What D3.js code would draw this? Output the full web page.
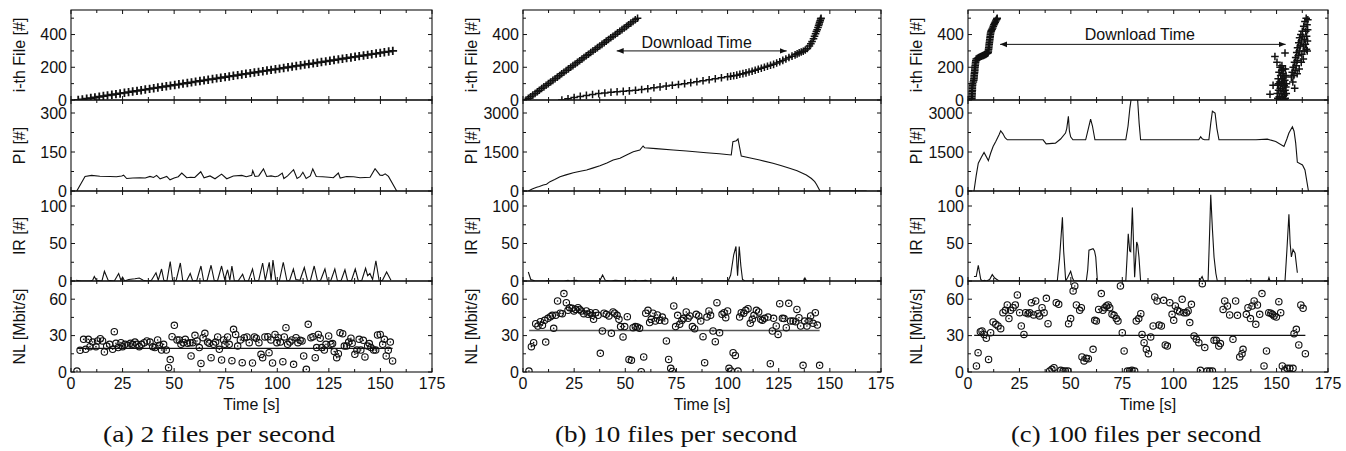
<!DOCTYPE html>
<html><head><meta charset="utf-8">
<script src="https://cdn.jsdelivr.net/npm/d3@7"></script>
<style>body{margin:0;background:#fff}svg{display:block}text{font-family:"Liberation Sans",Arial,sans-serif;fill:#111}</style>
</head><body><svg id="c" width="1346" height="451"></svg>
<script>
// ---------- tick labels / categories ----------
const timeTicks = [0,25,50,75,100,125,150,175];
const timeMinor = [12.5,37.5,62.5,87.5,112.5,137.5,162.5];
const fileTicks = [0,200,400], fileMinor = [100,300,500];
const piTicksA = [0,150,300], piMinorA = [75,225];
const piTicksBC = [0,1500,3000], piMinorBC = [750,2250];
const irTicks = [0,50,100], irMinor = [25,75];
const nlTicks = [0,30,60], nlMinor = [15,45];
const rowLabels = ["i-th File [#]","PI [#]","IR [#]","NL [Mbit/s]"];
const captions = ["(a) 2 files per second","(b) 10 files per second","(c) 100 files per second"];

// ---------- panel (a) 2 files/s ----------
const aFile = [[3.5,0],[5.5,4],[7.6,8],[9.6,12],[11.6,16],[13.7,20],[15.7,24],[17.7,28],[19.8,32],[21.8,36],[23.8,40],[25.9,44],[27.9,48],[29.9,52],[32.0,56],[34.0,60],[36.0,64],[38.1,68],[40.1,72],[42.1,76],[44.2,80],[46.2,84],[48.2,88],[50.3,92],[52.3,96],[54.3,100],[56.4,104],[58.4,108],[60.4,112],[62.5,116],[64.5,120],[66.5,124],[68.6,128],[70.6,132],[72.6,136],[74.7,140],[76.7,144],[78.7,148],[80.8,152],[82.8,156],[84.8,160],[86.9,164],[88.9,168],[90.9,172],[93.0,176],[95.0,180],[97.0,184],[99.1,188],[101.1,192],[103.1,196],[105.2,200],[107.2,204],[109.2,208],[111.3,212],[113.3,216],[115.3,220],[117.4,224],[119.4,228],[121.4,232],[123.5,236],[125.5,240],[127.5,244],[129.6,248],[131.6,252],[133.6,256],[135.7,260],[137.7,264],[139.7,268],[141.8,272],[143.8,276],[145.8,280],[147.9,284],[149.9,288],[151.9,292],[154.0,296],[156.0,300]];
const aPI = [[2.8,0],[6.8,56],[10,60],[14,57],[18.9,56],[22,55],[24.6,58],[25.5,61],[27,48],[30,50],[33.5,51],[36,50],[38.3,56],[40,52],[41.5,60],[43.2,47],[45,52],[46.4,56],[48,43],[50,50],[52,55],[53.7,69],[56.1,51],[58,53],[60,52],[62.9,74],[64.5,51],[67.4,58],[69.8,47],[73,65],[75.5,47],[78.7,58],[82.8,60],[85,55],[87.6,60],[88.1,78],[89.2,56],[91,58],[93.3,85],[94.9,56],[97,58],[99,55],[100.5,58],[102.4,69],[103.2,48],[105,58],[107.9,82],[109.6,48],[111,55],[112.4,72],[114,48],[116,58],[117.2,85],[118.9,56],[122,55],[125,53],[127.2,51],[129.6,69],[130.5,50],[133.6,56],[137,55],[140.1,51],[145,53],[147.4,86],[149.8,61],[151,60],[152.3,66],[153.9,56],[157.9,0]];
const aIR = [[2.5,1],[5,0],[9,0],[10.5,1],[11.3,6],[12.3,1],[15,0],[16.2,13],[18,1],[21,0],[23.1,10],[24.2,1],[25,5],[26,0],[28,2],[31,3],[33.1,4],[35,1],[37,0],[39,1],[41.2,11],[42.3,1],[43.9,16],[45,1],[46.5,0],[48.1,26],[49.3,0],[51,1],[53,24],[54.2,0],[56,0],[57.8,10],[59,0],[61,1],[63,20],[64.3,0],[66,1],[67.9,21],[69.4,1],[71,0],[73,20],[74.5,2],[75.9,15],[77,1],[78,20],[79.2,0],[81,0],[83.2,9],[84.3,0],[86,0],[88,16],[89.2,0],[91,1],[92.9,24],[94.2,1],[96.1,25],[97,1],[97.9,28],[99.3,0],[101,0],[102.9,25],[104.7,0],[106,1],[107.8,16],[109,2],[111,1],[113.1,18],[114.7,0],[116,0],[117.9,20],[119.5,0],[121,1],[123.1,16],[124.4,0],[126,1],[127.9,16],[129.2,0],[131,1],[132.8,15],[134.1,0],[136,1],[137.8,16],[139.3,0],[141,1],[142.8,17],[143.8,7],[144.9,10],[146.2,2],[147.8,27],[149.4,0],[151,1],[153,12],[155.1,1]];
const aNL = [[2.9,0.8],[4.4,17.9],[6.1,26.9],[7.1,18.7],[8.4,26.9],[9.2,20.9],[10.5,24.7],[12.1,20.9],[12.9,25.6],[14.2,27.5],[15.3,25.6],[16.2,16.5],[17.3,21.4],[18.7,22.8],[20.2,18.7],[21.0,33.2],[21.8,23.6],[22.9,20.1],[24.2,24.2],[25.0,20.9],[26.2,22.8],[27.5,22.0],[28.8,23.6],[29.9,22.8],[31.0,24.7],[32.0,22.8],[33.1,20.9],[34.2,22.8],[35.5,24.2],[36.8,25.6],[38.3,24.7],[39.6,20.9],[40.7,20.1],[42.0,26.4],[42.8,22.0],[43.9,18.1],[44.9,22.8],[46.2,18.1],[47.3,3.6],[48.1,10.2],[49.0,29.1],[50.1,38.5],[51.4,26.4],[52.5,26.4],[53.3,22.8],[54.4,24.2],[55.4,26.9],[56.5,23.6],[57.7,24.2],[58.2,13.2],[59.0,24.2],[60.1,30.2],[61.1,25.6],[62.2,20.1],[63.0,7.1],[64.0,28.3],[64.9,31.9],[66.2,24.7],[67.0,23.6],[67.9,11.8],[69.1,22.8],[70.1,24.7],[71.1,28.9],[71.9,18.7],[73.0,9.9],[74.0,26.4],[74.6,22.8],[75.9,28.9],[76.7,22.8],[78.0,9.3],[78.8,35.2],[79.8,31.0],[80.8,21.4],[82.1,26.4],[83.0,7.7],[84.0,28.3],[85.3,28.9],[86.4,24.2],[88.0,7.4],[88.9,28.9],[89.8,27.8],[91.1,24.2],[92.1,14.6],[92.9,11.8],[94.0,28.9],[95.4,29.1],[96.0,15.9],[96.9,26.4],[97.7,7.4],[98.9,31.0],[99.8,24.2],[100.5,28.3],[101.5,24.7],[102.7,8.5],[103.4,28.9],[104.2,36.5],[105.0,22.8],[106.1,24.7],[107.1,26.4],[107.9,6.3],[109.1,28.3],[110.0,24.2],[111.1,26.1],[112.0,25.6],[112.8,13.2],[114.1,2.2],[115.0,39.3],[116.3,28.3],[117.3,29.1],[118.4,11.8],[119.1,20.1],[119.9,31.0],[120.8,27.8],[121.6,20.1],[122.8,18.1],[123.6,22.8],[124.9,29.7],[126.0,22.8],[126.8,23.4],[127.6,16.8],[128.8,11.8],[129.6,15.1],[130.4,32.4],[131.7,31.6],[132.5,21.4],[133.6,21.4],[134.6,24.7],[135.7,27.8],[136.3,23.6],[137.6,14.6],[138.6,18.1],[139.7,26.9],[140.5,18.1],[141.7,26.1],[142.5,12.4],[143.8,21.4],[144.6,23.4],[145.4,20.1],[146.7,18.1],[147.7,18.1],[148.6,30.5],[149.9,31.0],[151.1,22.8],[151.9,26.9],[152.8,13.2],[153.8,17.9],[154.8,24.7],[155.9,9.1]];
const aNLmean = [[3.2,19.4],[155.9,19.4]];

// ---------- panel (b) 10 files/s ----------
const bReq = [[1.5,0],[2.6,10],[3.7,20],[4.8,30],[5.9,40],[7.0,50],[8.0,60],[9.1,70],[10.2,80],[11.3,90],[12.4,100],[13.5,110],[14.6,120],[15.7,130],[16.8,140],[17.9,150],[18.9,160],[20.0,170],[21.1,180],[22.2,190],[23.3,200],[24.4,210],[25.5,220],[26.6,230],[27.7,240],[28.8,250],[29.8,260],[30.9,270],[32.0,280],[33.1,290],[34.2,300],[35.3,310],[36.4,320],[37.5,330],[38.6,340],[39.7,350],[40.7,360],[41.8,370],[42.9,380],[44.0,390],[45.1,400],[46.2,410],[47.3,420],[48.4,430],[49.5,440],[50.6,450],[51.6,460],[52.7,470],[53.8,480],[54.9,490],[56.0,500]];
const bDone = [[19,0],[22,8],[25,15],[28,22],[31,28],[34,34],[37,39],[40,43],[43,47],[46,50],[49,53],[52,56],[55,60],[58,64],[61,69],[64,75],[67,80],[70,85],[73,90],[76,95],[79,100],[82,106],[85,112],[88,118],[91,124],[94,130],[97,136],[100,142],[101.5,145],[103,148],[104.5,152],[106,157],[107.5,161],[109,166],[110.5,171],[112,176],[113.5,182],[115,188],[116.5,194],[118,200],[119.5,206],[121,212],[122.5,218],[124,226],[125.5,234],[127,242],[128.5,251],[130,260],[131.5,268],[133,276],[134,282],[135,288],[136,293],[137,298],[138,306],[139,315],[140,330],[140.7,343],[141.3,357],[142,375],[142.5,390],[143,405],[143.4,418],[143.8,430],[144.2,443],[144.5,455],[144.8,465],[145,475],[145.3,485],[145.5,495],[145.7,500]];
const bPI = [[2.6,0],[4.5,80],[6.7,142],[8,170],[9.9,230],[11.5,260],[13.2,360],[15.5,440],[18.1,550],[21,620],[24.6,704],[28,760],[31.1,807],[34,880],[37.6,974],[41,1080],[44.1,1192],[47.4,1256],[50.6,1385],[53.9,1513],[57.1,1577],[58.7,1730],[59.5,1660],[65,1630],[73.4,1577],[80,1540],[89.6,1474],[96,1430],[101.8,1385],[102.6,1897],[104.3,1936],[105.1,2000],[106.7,1346],[110,1290],[115.7,1192],[122.2,1064],[126,980],[130.3,872],[134,780],[138.5,615],[141,480],[142.6,359],[143.5,250],[145.2,0],[168,0]];
const bIR = [[2.6,12],[3.8,2],[6,0],[11,0],[12.5,1],[13.5,0],[20,0],[22,1],[23,0],[26,1],[27,0],[37.5,0],[38.9,8],[40.2,1],[43,0],[45,1],[50,0],[52,1],[53,0],[55,1],[56,0],[60,1],[61,0],[72.5,0],[73.4,5],[74,0],[100.3,0],[101.5,8],[103,35],[104.1,46],[104.6,20],[104.9,7],[105.3,25],[105.7,46],[106.5,20],[107.3,2],[108.5,0],[137,0],[137.8,4],[138.6,0],[145,0]];
const bNL = [[2.9,0.8],[4.1,20.9],[5.2,24.2],[6.2,39.8],[7.3,37.9],[8.5,41.5],[9.5,38.5],[10.6,42.6],[11.1,24.7],[12.2,44.2],[13.4,45.6],[14.3,46.7],[15.0,36.0],[16.0,46.7],[16.9,58.5],[18.2,48.4],[19.2,48.1],[20.0,64.6],[21.2,57.1],[22.0,50.8],[22.8,53.0],[24.0,52.5],[24.9,50.3],[25.7,51.6],[26.9,53.0],[27.7,51.6],[28.5,50.3],[29.7,48.1],[31.0,50.3],[31.8,47.5],[32.9,48.9],[33.9,46.7],[34.5,43.4],[35.5,48.9],[36.7,46.7],[37.8,15.4],[38.8,33.8],[39.6,48.4],[40.7,47.5],[42.0,46.2],[43.2,31.9],[44.0,49.5],[44.8,48.4],[46.0,46.7],[46.9,43.4],[47.7,37.4],[48.9,28.9],[49.7,37.4],[51.0,45.6],[51.8,10.4],[53.0,9.6],[53.8,36.5],[54.9,37.4],[55.9,37.1],[57.0,36.0],[57.8,0.3],[59.0,12.4],[60.0,48.4],[61.1,50.8],[61.9,40.7],[62.7,43.4],[63.5,48.4],[64.7,42.0],[65.7,47.0],[66.8,42.6],[68.1,45.3],[69.3,42.0],[70.1,25.6],[71.2,10.4],[72.2,3.0],[73.0,0.5],[73.7,54.4],[74.6,37.4],[75.6,46.7],[76.6,39.3],[77.7,42.6],[78.5,44.2],[79.8,49.5],[80.7,44.2],[81.5,46.2],[82.8,37.4],[83.9,35.7],[84.7,47.5],[85.9,46.2],[86.9,42.0],[88.0,29.1],[88.8,7.7],[89.9,45.3],[90.9,50.3],[91.7,46.7],[92.9,33.8],[94.0,25.0],[94.8,57.1],[96.1,32.4],[97.3,47.5],[98.3,48.9],[99.1,44.8],[100.0,50.3],[100.7,3.0],[101.8,0.8],[102.7,15.9],[103.8,13.7],[105.1,0.8],[105.9,45.3],[106.7,48.9],[107.9,48.4],[108.9,50.8],[110.0,52.2],[111.1,40.1],[112.1,43.4],[112.9,46.7],[114.1,50.8],[115.2,49.5],[116.2,43.4],[117.0,42.6],[118.1,44.2],[119.8,45.3],[120.9,6.9],[121.9,33.8],[122.5,44.2],[123.8,37.9],[124.7,31.0],[125.5,56.3],[126.8,44.2],[127.6,44.0],[128.7,36.5],[129.9,56.6],[130.8,42.0],[132.0,42.0],[133.3,41.5],[133.9,51.6],[134.9,44.8],[135.7,37.9],[136.9,5.5],[137.7,42.0],[138.8,37.9],[139.8,42.0],[140.6,46.2],[141.8,40.1],[142.9,48.9],[143.9,38.7],[145.0,5.5]];
const bNLmean = [[3.0,34.2],[145.0,34.2]];

// ---------- panel (c) 100 files/s ----------
const cFileStart = [[1.8,0],[1.9,10],[1.9,20],[2.0,30],[2.0,40],[2.0,50],[2.1,60],[2.1,70],[2.1,80],[2.2,90],[2.2,100],[2.6,110],[2.8,120],[2.9,130],[3.0,140],[3.0,150],[3.1,160],[3.2,170],[3.3,180],[3.3,190],[3.4,200],[3.5,210],[3.6,220],[3.7,230],[3.8,240],[4.0,250],[4.5,254],[5.0,258],[5.5,261],[6.0,264],[6.5,267],[7.0,270],[7.5,273],[8.0,276],[8.5,279],[9.0,282],[9.5,286],[9.8,290],[9.9,300],[10.0,310],[10.1,320],[10.2,330],[10.3,340],[10.4,350],[10.5,360],[10.6,370],[10.7,380],[10.8,390],[10.9,400],[11.0,410],[11.2,418],[11.4,425],[11.7,432],[12.0,440],[12.3,450],[12.6,460],[12.9,468],[13.2,475],[13.5,483],[13.8,490],[14.0,495],[14.2,500]];
const cFileEnd = [[146.8,35],[148.3,90],[149.2,266],[150.2,230],[154.1,287],
  [150.3,40],[150.5,90],[150.6,10],[150.8,130],[151,60],[151.2,170],[151.3,20],[151.5,110],[151.7,200],[151.8,70],[152,150],[152.1,0],[152.2,40],[152.4,100],[152.5,180],[152.7,130],[152.8,20],[153,70],[153.1,160],[153.2,110],[153.3,50],[153.5,0],[153.6,140],[153.7,90],[153.8,30],[154,120],[154.1,60],[154.2,10],[154.3,190],[154.5,80],[154.6,150],[154.7,40],[154.8,100],[152.6,210],[151.4,0],[150.9,100],[153.9,0],[153.4,190],
  [157.2,140],[157.6,170],[157.9,110],[158.1,200],[158.4,150],[158.8,72],[158.7,230],[159.0,180],[159.3,260],[159.5,210],[159.8,290],[160.0,240],[160.2,320],[160.5,270],[160.8,350],[161.0,300],[161.2,380],[161.5,330],[161.8,400],[162.0,360],[162.3,280],[162.5,420],[162.7,390],[163.0,330],[163.2,450],[163.4,300],[163.6,370],[163.8,480],[164.0,340],[164.2,420],[164.4,500],[164.5,310],[164.6,390],[164.8,460],[165.0,360],[165.1,430],[165.2,490],[164.9,300],[163.0,250],[162.0,230],[161,190],[160,160]];
const cPI = [[2.9,0],[4,600],[5,1069],[6.5,1300],[7.8,1483],[9.9,1170],[11,1450],[12.2,1712],[13.5,1900],[15.1,2162],[15.9,2316],[17,2200],[18,2050],[19.1,1969],[25,1969],[36.5,1969],[38,1814],[42.5,1840],[45,2000],[47.4,2227],[48,2400],[48.8,2869],[49.3,2300],[49.9,2085],[51,1969],[57.2,1969],[58.5,2400],[59.6,2767],[60.5,2500],[61.7,1969],[76.7,1969],[77.8,2500],[78.7,3200],[79.6,3700],[82.3,3700],[83.2,2600],[83.9,1969],[112.2,1969],[113.1,2085],[114,2000],[115,1969],[117.1,1969],[118,2600],[118.8,3070],[120.1,3000],[121,2400],[122,1969],[140,1969],[145.5,1994],[149.6,1904],[153.6,1712],[155,2000],[156,2227],[157.7,2471],[158.5,2300],[159.3,1840],[160.1,1106],[161.5,1050],[162.6,1004],[163.8,811],[165.5,0]];
const cIR = [[2.9,6],[4,6],[5,21],[6.2,2],[7,0],[8,1],[9,0],[10.5,2],[11.8,8.5],[13,4],[15.1,0],[43.4,0],[44.5,30],[45.9,85],[46.5,40],[47.5,0],[48.5,5],[49.9,13],[50.8,4],[51.5,0],[57.5,0],[58.2,15],[58.8,41],[60.8,43],[61.5,40],[62.1,32],[62.9,0],[76.7,0],[77.3,30],[77.9,63],[78.6,40],[79.1,39],[79.9,98],[81,5],[82,52],[82.5,48],[83.1,32],[83.9,0],[112.5,0],[113.8,6],[114.6,0],[116.7,0],[117.4,60],[118,115],[118.8,70],[119.6,32],[120.5,10],[121.2,0],[135,0],[135.5,1],[136,0],[145.8,0],[146.3,4.5],[146.8,0],[154.1,0],[155,40],[156,89],[156.6,50],[157.2,32],[158,42],[159,37],[159.5,25],[160.1,11]];
const cNL = [[4.1,5.0],[4.9,15.9],[6.0,33.2],[6.8,33.8],[7.8,31.0],[8.9,27.8],[10.0,10.4],[11.0,32.4],[12.2,41.2],[13.5,39.3],[14.6,37.9],[15.9,35.7],[17.0,48.9],[18.2,50.8],[19.1,55.2],[19.9,44.0],[20.7,50.8],[21.9,53.0],[23.0,55.2],[24.0,63.5],[25.1,48.9],[25.9,37.9],[27.2,31.0],[28.0,48.9],[29.2,48.1],[30.0,48.9],[30.8,57.1],[31.9,47.0],[32.9,58.5],[34.0,48.1],[34.8,46.2],[36.0,53.0],[37.0,48.9],[38.1,60.7],[38.9,39.8],[39.7,0.8],[40.8,2.2],[41.8,3.6],[42.9,57.1],[44.1,55.8],[45.1,1.4],[46.2,0.8],[47.3,0.8],[48.6,0.8],[48.9,39.8],[49.9,44.0],[51.1,66.8],[51.9,70.9],[52.7,55.2],[54.3,50.8],[55.1,53.0],[55.4,12.4],[56.4,9.1],[57.5,11.3],[58.5,11.0],[60.8,18.7],[61.6,42.6],[62.4,42.0],[63.5,51.6],[64.8,64.6],[65.6,50.8],[66.5,53.0],[67.3,54.4],[68.1,55.2],[68.9,53.0],[70.0,47.5],[71.0,46.7],[72.1,44.0],[72.9,42.0],[74.1,70.9],[75.0,32.4],[75.9,17.3],[77.5,0.8],[78.6,0.8],[79.7,1.4],[81.0,0.8],[81.8,42.0],[83.0,44.0],[84.0,48.1],[84.6,31.0],[85.6,24.2],[86.7,18.7],[87.7,15.1],[88.8,28.9],[90.0,37.9],[90.8,61.8],[91.9,58.5],[92.9,38.7],[94.0,37.9],[95.1,59.1],[95.9,22.3],[96.9,21.4],[98.1,57.1],[99.2,47.5],[100.0,42.6],[100.8,54.4],[101.8,50.8],[102.9,49.7],[104.1,59.9],[105.0,48.9],[106.2,48.9],[107.0,50.3],[107.8,40.7],[108.6,55.8],[109.9,29.7],[111.0,26.9],[112.2,24.2],[113.0,1.4],[113.9,72.8],[115.1,20.1],[116.2,0.8],[117.5,0.8],[118.8,0.8],[119.6,26.1],[120.7,26.1],[121.9,21.4],[122.7,23.4],[124.0,51.6],[124.8,58.5],[126.1,54.4],[127.2,47.0],[128.8,26.9],[130.1,58.5],[131.0,46.7],[132.1,12.4],[133.2,15.1],[133.7,18.7],[135.3,47.5],[136.1,53.0],[137.3,44.0],[138.1,54.4],[139.1,58.5],[139.9,39.3],[140.7,55.2],[141.8,47.5],[142.9,64.6],[143.9,5.0],[145.1,17.3],[146.2,48.9],[147.2,48.4],[148.0,47.5],[148.8,46.2],[149.9,45.3],[151.1,58.0],[152.0,48.9],[152.8,5.0],[154.0,1.4],[155.1,3.0],[156.4,3.0],[158.0,3.0],[158.5,31.6],[159.6,35.2],[160.8,22.3],[161.8,55.2],[162.9,52.5],[164.0,15.1]];
const cNLmean = [[3.0,30.2],[164.0,30.2]];

// annotations (data units: [t0, t1, file-level])
const bArrow = [45.8, 128.9, 300];
const cArrow = [15.6, 154.4, 340];

// ---------- layout ----------
const svg = d3.select('#c');
const panelX = [[71,432],[523,881],[968,1328]];
const rowY = [[10,100],[100,191],[191,281],[281,372]];
const captionX = [219,676,1136];
const captionLen = [232,242,250];

const panels = [
  {file:[aFile], pi:aPI, piDom:350, piT:piTicksA, piM:piMinorA, ir:aIR, nl:aNL, nlMean:aNLmean, meanColor:'#111', arrow:null, plus:'M-4.3,0H4.3M0,-4.2V4.2', pw:1.8},
  {file:[bReq,bDone], pi:bPI, piDom:3500, piT:piTicksBC, piM:piMinorBC, ir:bIR, nl:bNL, nlMean:bNLmean, meanColor:'#555', arrow:bArrow, plus:'M-3.8,0H3.8M0,-3.8V3.8', pw:1.5},
  {file:[cFileStart,cFileEnd], pi:cPI, piDom:3500, piT:piTicksBC, piM:piMinorBC, ir:cIR, nl:cNL, nlMean:cNLmean, meanColor:'#111', arrow:cArrow, plus:'M-3.8,0H3.8M0,-3.8V3.8', pw:1.5}
];

const defs = svg.append('defs');
defs.append('marker').attr('id','ah').attr('viewBox','0 0 10 10').attr('refX',10).attr('refY',5)
  .attr('markerWidth',7).attr('markerHeight',7).attr('orient','auto-start-reverse').attr('markerUnits','userSpaceOnUse')
  .append('path').attr('d','M0,1L10,5L0,9Z').attr('fill','#111');

let clipId = 0;

panels.forEach((P, pi) => {
  const [x0,x1] = panelX[pi];
  const x = d3.scaleLinear().domain([0,175]).range([x0,x1]);
  const rows = [
    {dom:550, T:fileTicks, M:fileMinor},
    {dom:P.piDom, T:P.piT, M:P.piM},
    {dom:120, T:irTicks, M:irMinor},
    {dom:75, T:nlTicks, M:nlMinor}
  ];
  rows.forEach((R, ri) => {
    const [yt,yb] = rowY[ri];
    const y = d3.scaleLinear().domain([0,R.dom]).range([yb,yt]);
    const g = svg.append('g');
    const cid = 'clip'+(clipId++);
    defs.append('clipPath').attr('id',cid).append('rect').attr('x',x0).attr('y',yt).attr('width',x1-x0).attr('height',yb-yt);
    const content = g.append('g').attr('clip-path',`url(#${cid})`);
    const line = d3.line().x(d=>x(d[0])).y(d=>y(d[1]));
    if (ri===0) {
      P.file.forEach(s => {
        content.selectAll(null).data(s).enter().append('path')
          .attr('d',P.plus).attr('transform',d=>`translate(${x(d[0])},${y(d[1])})`)
          .attr('stroke','#111').attr('stroke-width',P.pw).attr('fill','none');
      });
      if (P.arrow) {
        const [t0,t1,lv] = P.arrow;
        g.append('line').attr('x1',x(t0)).attr('x2',x(t1)).attr('y1',y(lv)).attr('y2',y(lv))
          .attr('stroke','#111').attr('stroke-width',1).attr('marker-start','url(#ah)').attr('marker-end','url(#ah)');
        g.append('text').attr('x',(x(t0)+x(t1))/2 + (pi===1?-5:-3)).attr('y',y(lv)-(pi===1?2.5:4.5))
          .attr('text-anchor','middle').attr('font-size',16).text('Download Time');
      }
    } else if (ri===1) {
      content.append('path').datum(P.pi).attr('d',line).attr('fill','none').attr('stroke','#111').attr('stroke-width',1.1);
    } else if (ri===2) {
      content.append('path').datum(P.ir).attr('d',line).attr('fill','none').attr('stroke','#111').attr('stroke-width',1.1);
    } else {
      content.append('path').datum(P.nlMean).attr('d',line).attr('fill','none').attr('stroke',P.meanColor).attr('stroke-width',pi===1?1.6:1.2);
      const pts = content.selectAll(null).data(P.nl).enter().append('g')
        .attr('transform',d=>`translate(${x(d[0])},${y(d[1])})`);
      pts.append('circle').attr('r',3.2).attr('fill','none').attr('stroke','#111').attr('stroke-width',1.1);
      pts.append('circle').attr('r',0.8).attr('fill','#111');
    }
    // frame
    g.append('rect').attr('x',x0).attr('y',yt).attr('width',x1-x0).attr('height',yb-yt)
      .attr('fill','none').attr('stroke','#111').attr('stroke-width',1.1);
    // x ticks (inward, top & bottom)
    const xt = timeTicks.map(v=>[v,4]).concat(timeMinor.map(v=>[v,3]));
    xt.forEach(([v,l]) => {
      g.append('line').attr('x1',x(v)).attr('x2',x(v)).attr('y1',yb).attr('y2',yb-l).attr('stroke','#111');
      g.append('line').attr('x1',x(v)).attr('x2',x(v)).attr('y1',yt).attr('y2',yt+l).attr('stroke','#111');
    });
    // y ticks (inward, left & right)
    const yTicks = R.T.map(v=>[v,4]).concat(R.M.map(v=>[v,3])).filter(d=>d[0]<=R.dom);
    yTicks.forEach(([v,l]) => {
      g.append('line').attr('x1',x0).attr('x2',x0+l).attr('y1',y(v)).attr('y2',y(v)).attr('stroke','#111');
      g.append('line').attr('x1',x1).attr('x2',x1-l).attr('y1',y(v)).attr('y2',y(v)).attr('stroke','#111');
    });
    // y tick labels
    g.selectAll(null).data(R.T).enter().append('text')
      .attr('x',x0-4).attr('y',d=>y(d)).attr('dy','0.36em').attr('text-anchor','end').attr('font-size',16).text(d=>d);
    // row label
    g.append('text').attr('transform',`translate(${x0-46},${(yt+yb)/2}) rotate(-90)`)
      .attr('text-anchor','middle').attr('font-size',16).text(rowLabels[ri]);
    // x tick labels on bottom row
    if (ri===3) {
      g.selectAll(null).data(timeTicks).enter().append('text')
        .attr('x',d=>x(d)).attr('y',389).attr('text-anchor','middle').attr('font-size',16).text(d=>d);
      g.append('text').attr('x',(x0+x1)/2).attr('y',410).attr('text-anchor','middle').attr('font-size',16).text('Time [s]');
    }
  });
  svg.append('text').attr('x',captionX[pi]).attr('y',442).attr('text-anchor','middle')
    .attr('textLength',captionLen[pi]).attr('lengthAdjust','spacingAndGlyphs')
    .style('font-family','"Liberation Serif","Times New Roman",serif').attr('font-size',24).text(captions[pi]);
});
</script></body></html>
